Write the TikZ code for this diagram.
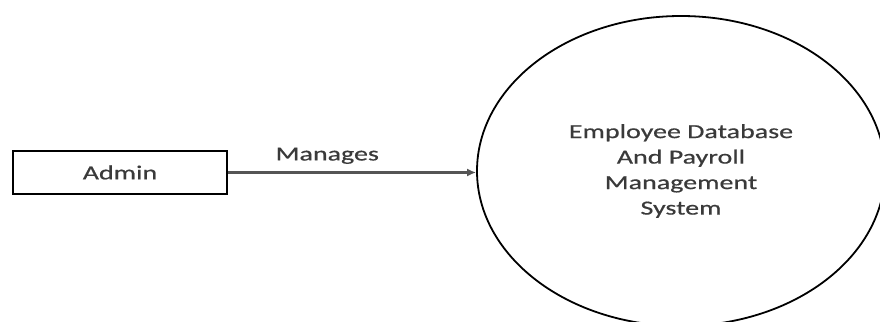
\documentclass[tikz,border=0pt]{standalone}
\usepackage{fontspec}
\setmainfont{Carlito}[FakeStretch=1.4, FakeBold=0.6]
\usepackage{xcolor}
\usetikzlibrary{arrows.meta, positioning, shapes.geometric}

\definecolor{txtgray}{HTML}{3A3A3A}
\definecolor{arrgray}{HTML}{555555}

\begin{document}
\begin{tikzpicture}[x=1pt, y=1pt,
  font=\fontsize{20}{25.5}\selectfont,
  text=txtgray,
  entity/.style={draw=black, line width=2pt, minimum height=43pt, minimum width=214pt, inner sep=0pt},
  process/.style={ellipse, draw=black, line width=1.8pt, minimum width=408pt, minimum height=310pt, inner sep=0pt, align=center},
  arr/.style={draw=arrgray, line width=2.6pt, -{Latex[length=9pt, width=8pt]}}
]
\useasboundingbox (0,0) rectangle (880,321);
\node[entity] (adm) at (120,148.5) {Admin};
\node[process] (sys) at (681,150) {Employee Database\\And Payroll\\Management\\System};

\draw[arr] (adm.east) -- (adm.east -| sys.west)
  node[pos=0.4, above=4pt, text=txtgray] (lbl) {Manages};
\end{tikzpicture}
\end{document}
